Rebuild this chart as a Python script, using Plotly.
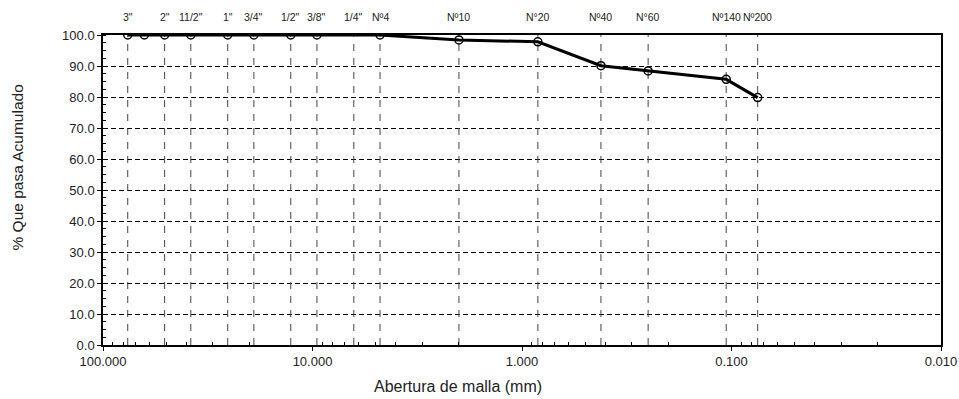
import math
import plotly.graph_objects as go

# Sieve data
sieve_labels = ['3"', '2"', '11/2"', '1"', '3/4"', '1/2"', '3/8"', '1/4"', 'Nº4', 'Nº10', 'N°20', 'Nº40', 'N°60', 'Nº140', 'Nº200']
sieve_sizes = [76.2, 50.8, 38.1, 25.4, 19.05, 12.7, 9.525, 6.35, 4.76, 2.0, 0.84, 0.42, 0.25, 0.106, 0.075]

# Test results (curve points)
curve_sizes = [76.2, 63.5, 50.8, 38.1, 25.4, 19.05, 12.7, 9.525, 4.76, 2.0, 0.84, 0.42, 0.25, 0.106, 0.075]
curve_pass = [100.0, 100.0, 100.0, 100.0, 100.0, 100.0, 100.0, 100.0, 100.0, 98.4, 97.8, 90.1, 88.4, 85.7, 79.8]

y_ticks = [0, 10, 20, 30, 40, 50, 60, 70, 80, 90, 100]
x_ticks = [100, 10, 1, 0.1, 0.01]
x_minor = [m * d for d in [0.01, 0.1, 1, 10] for m in range(2, 10)]

x_title = "Abertura de malla (mm)"
y_title = "% Que pasa Acumulado"

FONT = "Liberation Sans, Arial"
TXT = "#222222"

fig = go.Figure()

# vertical dashed sieve lines
vx, vy = [], []
for s in sieve_sizes:
    vx += [s, s, None]
    vy += [0, 100, None]
fig.add_trace(go.Scatter(x=vx, y=vy, mode="lines",
                         line=dict(color="#444444", width=1, dash="7px,7px"),
                         hoverinfo="skip", showlegend=False))

fig.add_trace(go.Scatter(x=curve_sizes, y=curve_pass, mode="lines+markers",
                         line=dict(color="black", width=3),
                         marker=dict(symbol="circle-open", size=8, color="black", line=dict(width=1.5)),
                         showlegend=False))

for lab, s in zip(sieve_labels, sieve_sizes):
    fig.add_annotation(x=math.log10(s), xref="x", y=1.0, yref="paper", yshift=18, text=lab,
                       showarrow=False, font=dict(family=FONT, size=10.5, color=TXT),
                       yanchor="middle")

# axis titles (placed as in the reference, offset from plot centre)
fig.add_annotation(text=x_title, xref="paper", yref="paper", x=0.4236, y=-0.135,
                   xanchor="center", yanchor="middle", showarrow=False,
                   font=dict(family=FONT, size=16, color=TXT))
fig.add_annotation(text=y_title, xref="paper", yref="paper", x=-0.102, y=0.571,
                   xanchor="center", yanchor="middle", showarrow=False, textangle=-90,
                   font=dict(family=FONT, size=15.5, color=TXT))

fig.update_xaxes(type="log", range=[2, -2], autorange=False,
                 tickvals=x_ticks, ticktext=[f"{v:.3f}" for v in x_ticks],
                 ticks="outside", ticklen=4, tickcolor="black",
                 showgrid=False, zeroline=False,
                 showline=True, linecolor="black", linewidth=1.5, mirror=True,
                 minor=dict(tickmode="array", tickvals=x_minor, ticks="inside", ticklen=3,
                            tickcolor="black", showgrid=False),
                 tickfont=dict(size=13, color=TXT))
fig.update_yaxes(range=[0, 100], tickvals=y_ticks, ticktext=[f"{v:.1f}" for v in y_ticks],
                 ticks="outside", ticklen=4, tickcolor="black",
                 showgrid=True, gridcolor="black", griddash="5px,3px", gridwidth=1,
                 zeroline=False,
                 showline=True, linecolor="black", linewidth=1.5, mirror=True,
                 minor=dict(dtick=2.5, ticks="inside", ticklen=3, tickcolor="black", showgrid=False),
                 tickfont=dict(size=13, color=TXT))

fig.update_layout(width=959, height=399, margin=dict(l=103, r=18, t=35, b=54, autoexpand=False),
                  plot_bgcolor="white", paper_bgcolor="white",
                  font=dict(family=FONT))

fig.write_html("out.html", config={"displayModeBar": False},
               post_script="document.body.style.margin='0';")
